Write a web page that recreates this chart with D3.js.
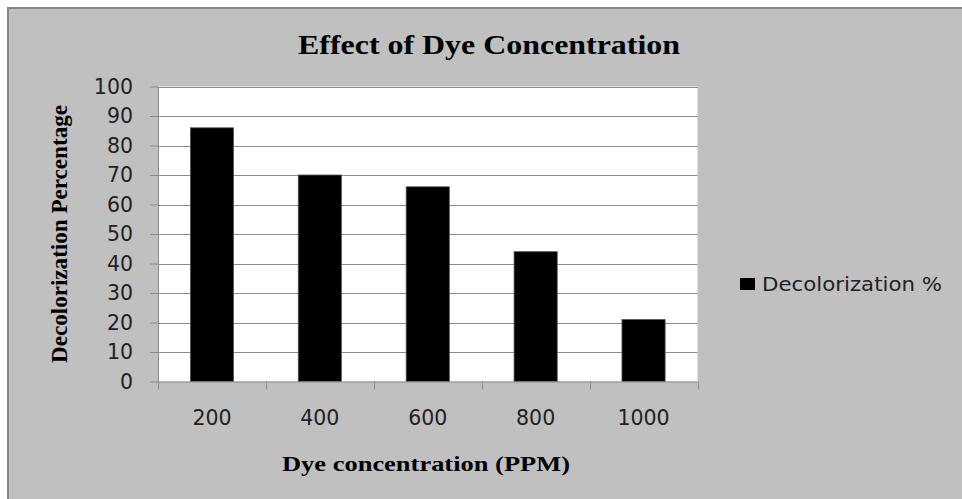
<!DOCTYPE html>
<html>
<head>
<meta charset="utf-8">
<script src="https://cdn.jsdelivr.net/npm/d3@7"></script>
<style>
  body { margin: 0; background: #fff; }
  svg { display: block; }
</style>
</head>
<body>
<svg id="chart"></svg>
<script>
// data
const categories = ["200", "400", "600", "800", "1000"];
const decolorization = [86, 70, 66, 44, 21];
const yTicks = [0, 10, 20, 30, 40, 50, 60, 70, 80, 90, 100];
const seriesName = "Decolorization %";

(function() {
    const width = 962, height = 499;
    const svg = d3.select("#chart").attr("width", width).attr("height", height);

    // grey chart area with border (runs off right/bottom)
    svg.append("rect")
        .attr("x", 8).attr("y", 8)
        .attr("width", width).attr("height", height)
        .attr("fill", "#c0c0c0")
        .attr("stroke", "#868686")
        .attr("stroke-width", 2);

    const plot = {left: 158, right: 697.5, top: 86.5, bottom: 381.5};

    const x = d3.scaleBand()
        .domain(categories)
        .range([plot.left, plot.right])
        .paddingInner(0.6).paddingOuter(0.3);
    const xEdge = d3.scaleLinear()
        .domain([0, categories.length])
        .range([plot.left, plot.right]);
    const y = d3.scaleLinear().domain([0, 100]).range([plot.bottom, plot.top]);

    // white plot area
    svg.append("rect")
        .attr("x", plot.left).attr("y", plot.top)
        .attr("width", plot.right - plot.left).attr("height", plot.bottom - plot.top)
        .attr("fill", "#fff");

    // gridlines
    svg.append("g").selectAll("line")
        .data(yTicks.filter(d => d > 0))
        .enter().append("line")
        .attr("x1", plot.left).attr("x2", plot.right)
        .attr("y1", d => Math.round(y(d)) + 0.5).attr("y2", d => Math.round(y(d)) + 0.5)
        .attr("stroke", "#8c8c8c");

    // bars
    svg.append("g").selectAll("rect")
        .data(decolorization)
        .enter().append("rect")
        .attr("x", (d, i) => x(categories[i]))
        .attr("y", d => y(d))
        .attr("width", x.bandwidth())
        .attr("height", d => y(0) - y(d))
        .attr("fill", "#000")
        .attr("stroke", "#555")
        .attr("stroke-width", 0.8);

    // y axis
    const yAxis = svg.append("g")
        .attr("transform", `translate(${plot.left},0)`)
        .call(d3.axisLeft(y).tickValues(yTicks).tickSize(8).tickPadding(17));
    yAxis.select(".domain").attr("stroke", "#8c8c8c").attr("d", `M0.5,${plot.top}V${plot.bottom}`);
    yAxis.selectAll(".tick line").attr("stroke", "#8c8c8c");
    yAxis.selectAll("text")
        .attr("font-family", "DejaVu Sans").attr("font-size", 20.5).attr("fill", "#222");

    // x axis with ticks at category edges
    const xg = svg.append("g");
    xg.append("line")
        .attr("x1", plot.left).attr("x2", plot.right)
        .attr("y1", plot.bottom + 0.5).attr("y2", plot.bottom + 0.5)
        .attr("stroke", "#8c8c8c");
    xg.selectAll(".tk")
        .data(d3.range(categories.length + 1))
        .enter().append("line")
        .attr("x1", d => Math.round(xEdge(d)) + 0.5).attr("x2", d => Math.round(xEdge(d)) + 0.5)
        .attr("y1", plot.bottom).attr("y2", plot.bottom + 8)
        .attr("stroke", "#8c8c8c");
    xg.selectAll("text")
        .data(categories)
        .enter().append("text")
        .attr("x", d => x(d) + x.bandwidth() / 2)
        .attr("y", 425)
        .attr("text-anchor", "middle")
        .attr("font-family", "DejaVu Sans").attr("font-size", 20.5).attr("fill", "#222")
        .text(d => d);

    // title
    svg.append("text")
        .attr("x", 489).attr("y", 54)
        .attr("text-anchor", "middle")
        .attr("font-family", "Liberation Serif").attr("font-weight", "bold")
        .attr("font-size", 27)
        .attr("textLength", 382).attr("lengthAdjust", "spacingAndGlyphs")
        .text("Effect of Dye Concentration");

    // axis titles
    svg.append("text")
        .attr("transform", `translate(67,${(105 + 363) / 2}) rotate(-90)`)
        .attr("text-anchor", "middle")
        .attr("font-family", "Liberation Serif").attr("font-weight", "bold")
        .attr("font-size", 23)
        .attr("textLength", 258).attr("lengthAdjust", "spacingAndGlyphs")
        .text("Decolorization Percentage");

    svg.append("text")
        .attr("x", 426).attr("y", 471)
        .attr("text-anchor", "middle")
        .attr("font-family", "Liberation Serif").attr("font-weight", "bold")
        .attr("font-size", 22)
        .attr("textLength", 288).attr("lengthAdjust", "spacingAndGlyphs")
        .text("Dye concentration (PPM)");

    // legend
    const lg = svg.append("g").attr("transform", "translate(740,278)");
    lg.append("rect").attr("width", 15).attr("height", 12).attr("fill", "#000");
    lg.append("text")
        .attr("x", 22).attr("y", 12.5)
        .attr("font-family", "DejaVu Sans").attr("font-size", 20).attr("fill", "#222")
        .attr("textLength", 180).attr("lengthAdjust", "spacingAndGlyphs")
        .text(seriesName);
})();
</script>
</body>
</html>
